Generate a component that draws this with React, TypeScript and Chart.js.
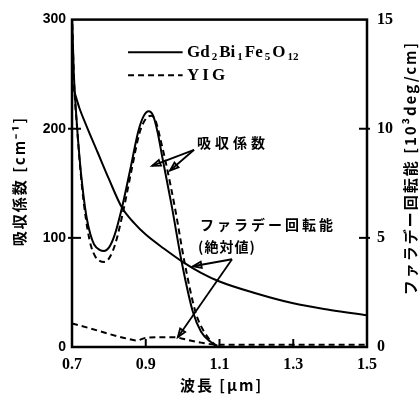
import { useEffect, useRef } from "react";
import { Chart, registerables } from "chart.js";

Chart.register(...registerables);

// ---- data (wavelength in µm) ----
const gdAbsX = [0.7, 0.705, 0.712, 0.72, 0.73, 0.74, 0.75, 0.76, 0.775, 0.787, 0.8, 0.815, 0.835, 0.86, 0.88, 0.895, 0.908, 0.92, 0.932, 0.946, 0.97, 0.998, 1.028, 1.05, 1.075, 1.1, 1.3, 1.5];
const gdAbsY = [305, 250, 210, 175, 142, 118, 103, 94, 89, 88, 91, 102, 127, 166, 198, 212, 216, 212, 197, 172, 130, 77, 32, 14, 5, 0, 0, 0];

const yigAbsX = [0.7, 0.706, 0.714, 0.722, 0.732, 0.742, 0.752, 0.763, 0.775, 0.787, 0.8, 0.817, 0.838, 0.862, 0.883, 0.9, 0.915, 0.927, 0.94, 0.955, 0.98, 1.005, 1.035, 1.06, 1.085, 1.105];
const yigAbsY = [305, 240, 200, 165, 132, 108, 92, 83, 79, 78, 81, 94, 123, 163, 196, 209, 212, 207, 190, 168, 126, 78, 32, 13, 3, 0];

// Faraday rotation, 10^3 deg/cm
const gdFarX = [0.7, 0.71, 0.72, 0.74, 0.77, 0.8, 0.835, 0.87, 0.9, 0.95, 1.0, 1.05, 1.1, 1.2, 1.3, 1.4, 1.5];
const gdFarY = [12.1, 11.5, 10.95, 10.1, 8.9, 7.7, 6.4, 5.65, 5.15, 4.5, 3.9, 3.4, 3.0, 2.45, 2.0, 1.7, 1.45];

const yigFarX = [0.7, 0.75, 0.8, 0.85, 0.875, 0.9, 0.95, 0.98, 1.0, 1.05, 1.1, 1.3, 1.5];
const yigFarY = [1.08, 0.85, 0.6, 0.38, 0.3, 0.42, 0.45, 0.45, 0.38, 0.2, 0.1, 0.1, 0.1];

const xTickValues = [0.7, 0.9, 1.1, 1.3, 1.5];
const absTickValues = [0, 100, 200, 300];
const farTickValues = [0, 5, 10, 15];

const seriesLabels = ["Gd2Bi1Fe5O12", "YIG"];
const xTitle = "波長 [μm]";
const yTitle = "吸収係数 [cm⁻¹]";
const y1Title = "ファラデー回転能 [10³deg/cm]";
const absNote = "吸収係数";
const farNote1 = "ファラデー回転能";
const farNote2 = "(絶対値)";

const zip = (xs: number[], ys: number[]) => xs.map((x, i) => ({ x, y: ys[i] }));

const CJK = '"Noto Sans CJK JP", sans-serif';
const SERIF = '"Liberation Serif", serif';

function line(ctx: CanvasRenderingContext2D, x1: number, y1: number, x2: number, y2: number) {
  ctx.beginPath();
  ctx.moveTo(x1, y1);
  ctx.lineTo(x2, y2);
  ctx.stroke();
}

function arrow(ctx: CanvasRenderingContext2D, x1: number, y1: number, x2: number, y2: number) {
  line(ctx, x1, y1, x2, y2);
  const ang = Math.atan2(y2 - y1, x2 - x1);
  const L = 9, W = 0.35;
  ctx.beginPath();
  ctx.moveTo(x2, y2);
  ctx.lineTo(x2 - L * Math.cos(ang - W), y2 - L * Math.sin(ang - W));
  ctx.lineTo(x2 - L * Math.cos(ang + W), y2 - L * Math.sin(ang + W));
  ctx.closePath();
  ctx.stroke();
}

function drawChem(ctx: CanvasRenderingContext2D, label: string, x: number, y: number, size: number) {
  const parts = label.match(/(\d+|\D+)/g) || [];
  let cx = x;
  ctx.textAlign = "left";
  ctx.textBaseline = "middle";
  for (const p of parts) {
    const sub = /\d/.test(p);
    ctx.font = `bold ${sub ? Math.round(size * 0.62) : size}px ${SERIF}`;
    ctx.fillText(p, cx, y + (sub ? size * 0.28 : 0));
    cx += ctx.measureText(p).width + 2;
  }
}

const overlay = {
  id: "overlay",
  afterDraw(chart: any) {
    const { ctx, chartArea: a, scales } = chart;
    const sx = scales.x, sy = scales.y, sy1 = scales.y1;
    ctx.save();
    ctx.strokeStyle = "#000";
    ctx.fillStyle = "#000";

    // frame
    ctx.lineWidth = 2.5;
    ctx.strokeRect(a.left, a.top, a.right - a.left, a.bottom - a.top);

    // inward ticks
    ctx.lineWidth = 2;
    xTickValues.slice(1, -1).forEach((v) => {
      const px = sx.getPixelForValue(v);
      line(ctx, px, a.bottom, px, a.bottom - 8);
    });
    absTickValues.slice(1, -1).forEach((v) => {
      const py = sy.getPixelForValue(v);
      line(ctx, a.left - 4, py, a.left + 9, py);
    });
    farTickValues.slice(1, -1).forEach((v) => {
      const py = sy1.getPixelForValue(v);
      line(ctx, a.right - 8, py, a.right + 3, py);
    });

    // legend inside
    const lx1 = sx.getPixelForValue(0.852), lx2 = sx.getPixelForValue(1.0);
    const ly1 = sy.getPixelForValue(270), ly2 = sy.getPixelForValue(249);
    const tx = sx.getPixelForValue(1.012);
    ctx.lineWidth = 2;
    line(ctx, lx1, ly1, lx2, ly1);
    ctx.setLineDash([6, 4]);
    line(ctx, lx1, ly2, lx2, ly2);
    ctx.setLineDash([]);
    drawChem(ctx, seriesLabels[0], tx, ly1, 17);
    (ctx as any).letterSpacing = "3px";
    drawChem(ctx, seriesLabels[1], tx, ly2, 17);
    (ctx as any).letterSpacing = "0px";

    // annotations
    ctx.textAlign = "left";
    ctx.textBaseline = "middle";
    ctx.font = `bold 14px ${CJK}`;
    (ctx as any).letterSpacing = "4px";
    ctx.fillText(absNote, sx.getPixelForValue(1.039), sy.getPixelForValue(187));
    (ctx as any).letterSpacing = "3px";
    ctx.fillText(farNote1, sx.getPixelForValue(1.047), sy.getPixelForValue(112));
    (ctx as any).letterSpacing = "1px";
    ctx.fillText(farNote2, sx.getPixelForValue(1.042), sy.getPixelForValue(92));
    (ctx as any).letterSpacing = "0px";

    ctx.lineWidth = 1.8;
    const ax = sx.getPixelForValue(1.031), ay = sy.getPixelForValue(180.7);
    arrow(ctx, ax, ay, sx.getPixelForValue(0.917), sy.getPixelForValue(166));
    arrow(ctx, ax, ay, sx.getPixelForValue(0.966), sy.getPixelForValue(161.7));
    const fx = sx.getPixelForValue(1.134), fy = sy.getPixelForValue(80.4);
    arrow(ctx, fx, fy, sx.getPixelForValue(1.028), sy.getPixelForValue(74));
    arrow(ctx, fx, fy, sx.getPixelForValue(0.987), sy.getPixelForValue(9));

    // axis titles
    ctx.textAlign = "center";
    ctx.textBaseline = "middle";
    ctx.font = `bold 15px ${CJK}`;
    (ctx as any).letterSpacing = "2px";
    ctx.fillText(xTitle, (a.left + a.right) / 2 + 2, 385);

    ctx.save();
    ctx.translate(19, 181);
    ctx.rotate(-Math.PI / 2);
    ctx.fillText(yTitle, 0, 0);
    ctx.restore();

    ctx.save();
    ctx.translate(410, 168);
    ctx.rotate(-Math.PI / 2);
    ctx.font = `bold 15px ${CJK}`;
    ctx.fillText(y1Title, 0, 0);
    ctx.restore();
    (ctx as any).letterSpacing = "0px";

    ctx.restore();
  },
};

export default function App() {
  const ref = useRef<HTMLCanvasElement | null>(null);
  useEffect(() => {
    if (!ref.current) return;
    const chart = new Chart(ref.current, {
      type: "line",
      data: {
        datasets: [
          { label: seriesLabels[0], data: zip(gdAbsX, gdAbsY), yAxisID: "y", borderColor: "#000", borderWidth: 2, pointRadius: 0, cubicInterpolationMode: "monotone", fill: false },
          { label: seriesLabels[1], data: zip(yigAbsX, yigAbsY), yAxisID: "y", borderColor: "#000", borderWidth: 2, borderDash: [6, 4], pointRadius: 0, cubicInterpolationMode: "monotone", fill: false },
          { label: seriesLabels[0] + " F", data: zip(gdFarX, gdFarY), yAxisID: "y1", borderColor: "#000", borderWidth: 2, pointRadius: 0, cubicInterpolationMode: "monotone", fill: false },
          { label: seriesLabels[1] + " F", data: zip(yigFarX, yigFarY), yAxisID: "y1", borderColor: "#000", borderWidth: 2, borderDash: [6, 4], pointRadius: 0, cubicInterpolationMode: "monotone", fill: false },
        ],
      },
      options: {
        responsive: false,
        animation: false,
        parsing: true,
        layout: { padding: { top: 15, left: 0, right: 0, bottom: 0 } },
        plugins: { legend: { display: false }, tooltip: { enabled: false } },
        scales: {
          x: {
            type: "linear",
            min: 0.7,
            max: 1.5,
            grid: { display: false, drawTicks: false },
            border: { display: false },
            afterBuildTicks: (s: any) => { s.ticks = xTickValues.map((v) => ({ value: v })); },
            afterFit: (s: any) => { s.height = 53; },
            ticks: {
              padding: 8,
              color: "#000",
              maxRotation: 0,
              font: { family: "Liberation Serif", size: 16, weight: "bold" },
              callback: (v: any) => Number(v).toFixed(1),
            },
          },
          y: {
            position: "left",
            min: 0,
            max: 300,
            grid: { display: false, drawTicks: false },
            border: { display: false },
            afterBuildTicks: (s: any) => { s.ticks = absTickValues.map((v) => ({ value: v })); },
            afterFit: (s: any) => { s.width = 72; },
            ticks: { padding: 6, color: "#000", font: { family: "Liberation Sans", size: 14, weight: "bold" } },
          },
          y1: {
            position: "right",
            min: 0,
            max: 15,
            grid: { display: false, drawTicks: false },
            border: { display: false },
            afterBuildTicks: (s: any) => { s.ticks = farTickValues.map((v) => ({ value: v })); },
            afterFit: (s: any) => { s.width = 53; },
            ticks: { padding: 10, color: "#000", font: { family: "Liberation Serif", size: 16, weight: "bold" } },
          },
        },
      },
      plugins: [overlay],
    } as any);
    return () => chart.destroy();
  }, []);
  return (
    <div style={{ position: "absolute", left: 0, top: 0, width: 420, height: 400, background: "#fff" }}>
      <canvas ref={ref} width={420} height={400} />
    </div>
  );
}
